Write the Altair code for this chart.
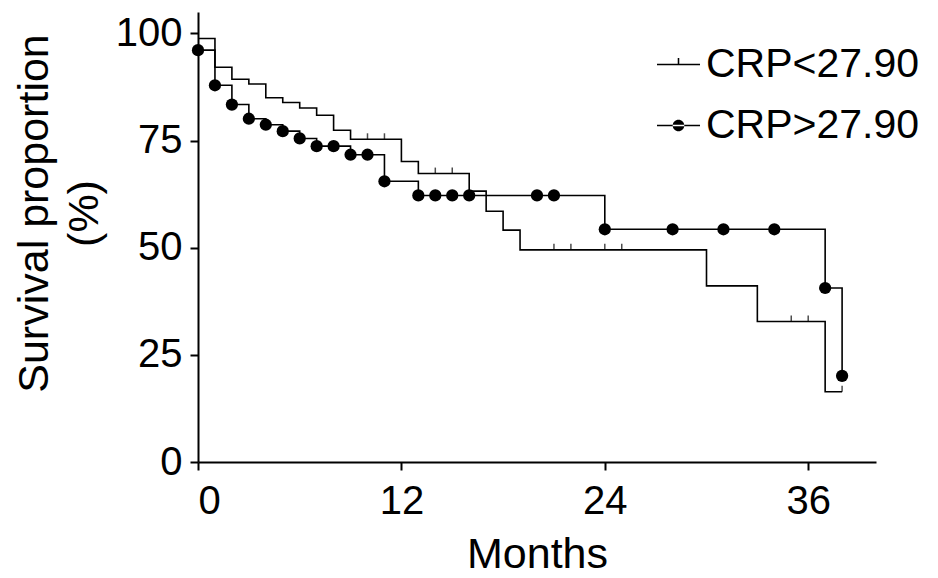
import altair as alt
import pandas as pd

# ---- data (months, survival %) ----
groups = ["CRP<27.90", "CRP>27.90"]

low_times = [0, 1, 2, 3, 4, 5, 6, 7, 8, 9, 12, 13, 16, 17, 18, 19, 30, 33, 37, 38]
low_surv = [98.8, 92.1, 89.3, 88.2, 85.0, 83.9, 82.6, 80.9, 77.4, 75.3, 70.1, 67.3,
            63.2, 58.5, 54.1, 49.5, 41.1, 32.8, 16.4, 16.4]
low_censor = [10, 11, 14, 15, 21, 22, 24, 25, 35, 36, 38]

high_times = [0, 1, 2, 3, 4, 5, 6, 7, 9, 11, 13, 24, 37, 38]
high_surv = [96.1, 87.9, 83.4, 80.1, 78.7, 77.2, 75.5, 73.7, 71.7, 65.5, 62.2, 54.3, 40.6, 20.1]
high_censor = [8, 10, 14, 15, 16, 20, 21, 28, 31, 34]

x_ticks = [0, 12, 24, 36]
y_ticks = [0, 25, 50, 75, 100]


def surv_at(times, surv, t):
    val = surv[0]
    for tt, s in zip(times, surv):
        if tt <= t:
            val = s
    return val


lines_df = pd.DataFrame(
    [{"group": groups[0], "t": t, "s": s} for t, s in zip(low_times, low_surv)]
    + [{"group": groups[1], "t": t, "s": s} for t, s in zip(high_times, high_surv)]
)
ticks_df = pd.DataFrame(
    [{"t": t, "s": surv_at(low_times, low_surv, t)} for t in low_censor]
)
dots_df = pd.DataFrame(
    [{"t": t, "s": s} for t, s in zip(high_times, high_surv)]
    + [{"t": t, "s": surv_at(high_times, high_surv, t)} for t in high_censor]
)
legend_df = pd.DataFrame({"group": groups, "t": [0, 0], "s": [0, 0]})

FONT = "Liberation Sans"

xenc = alt.X(
    "t:Q",
    scale=alt.Scale(domain=[0, 40], nice=False, zero=False),
    axis=alt.Axis(
        values=x_ticks,
        title="Months",
        titleFontSize=43,
        titleFont=FONT,
        titleFontWeight="normal",
        titleBaseline="alphabetic",
        titleY=105,
        labelBaseline="alphabetic",
        labelPadding=43,
        labelFontSize=40,
    ),
)
yenc = alt.Y(
    "s:Q",
    scale=alt.Scale(domain=[0, 105], nice=False),
    axis=alt.Axis(
        values=y_ticks,
        title=["Survival proportion", "(%)"],
        titleFontSize=43,
        titleFont=FONT,
        titleFontWeight="normal",
        titleAngle=270,
        titleBaseline="alphabetic",
        titleAlign="center",
        titleX=-151,
        titleY=201,
        titleLineHeight=50,
        labelPadding=8,
        labelFontSize=40,
    ),
)

lines = alt.Chart(lines_df).mark_line(
    interpolate="step-after", color="black", strokeWidth=1.6
).encode(x=xenc, y=yenc, detail="group:N")

ticks = alt.Chart(ticks_df).mark_tick(
    orient="vertical", size=6, thickness=1.5, yOffset=-3, color="black"
).encode(x="t:Q", y="s:Q")

dots = alt.Chart(dots_df).mark_circle(size=150, color="black", opacity=1).encode(
    x="t:Q", y="s:Q"
)

# legend symbols: filled shapes (line + censor tick, line + dot)
legend_layer = alt.Chart(legend_df).mark_point(
    filled=True, color="black", opacity=0
).encode(
    x="t:Q",
    y="s:Q",
    shape=alt.Shape(
        "group:N",
        scale=alt.Scale(
            domain=groups,
            range=[
                "M-1,-0.036H1V0.036H-1ZM-0.036,0V-0.3H0.036V0Z",
                "M-1,-0.036H1V0.036H-1ZM-0.27,0A0.27,0.27,0,1,0,0.27,0A0.27,0.27,0,1,0,-0.27,0Z",
            ],
        ),
        legend=alt.Legend(
            title=None,
            orient="none",
            legendX=459,
            legendY=31,
            symbolSize=1849,
            symbolOpacity=1,
            symbolFillColor="black",
            symbolStrokeWidth=0,
            labelFont=FONT,
            labelFontSize=41,
            labelColor="black",
            labelOffset=6,
            rowPadding=19,
            padding=0,
            labelLimit=400,
        ),
    ),
)

chart = (
    alt.layer(lines, ticks, dots, legend_layer)
    .properties(
        width=678,
        height=450,
        autosize=alt.AutoSizeParams(type="none"),
        padding={"left": 190, "top": 4, "right": 54, "bottom": 108},
    )
    .configure_view(stroke=None)
    .configure_axis(
        grid=False,
        labelFont=FONT,
        labelColor="black",
        titleColor="black",
        domainColor="black",
        domainWidth=2,
        tickColor="black",
        tickWidth=2,
        tickSize=8,
    )
)

chart.save("out.html", embed_options={"renderer": "svg", "actions": False})
